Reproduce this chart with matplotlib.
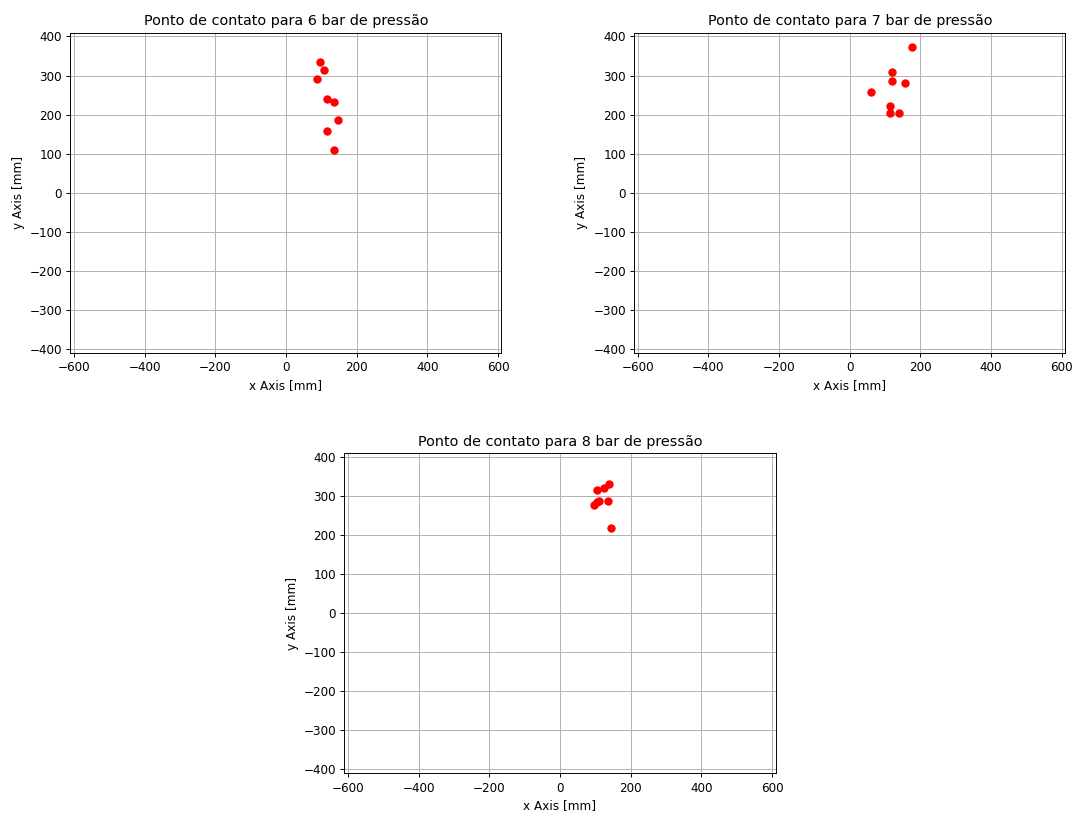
import matplotlib
matplotlib.use("Agg")
import matplotlib.pyplot as plt

# Contact points (mm) for each pressure level
x_6bar = [96, 107, 87, 116, 137, 148, 116, 137]
y_6bar = [334, 313, 290, 240, 233, 187, 159, 110]

x_7bar = [176, 120, 120, 156, 60, 114, 114, 140]
y_7bar = [372, 310, 286, 282, 257, 222, 204, 204]

x_8bar = [140, 125, 106, 110, 137, 96, 145, 104]
y_8bar = [331, 321, 315, 288, 286, 276, 217, 284]

titles = ["Ponto de contato para 6 bar de pressão",
          "Ponto de contato para 7 bar de pressão",
          "Ponto de contato para 8 bar de pressão"]

DPI = 86
fig = plt.figure(figsize=(1075 / DPI, 814 / DPI), dpi=DPI)
w, h = 0.401, 0.3937
positions = [(0.0655, 0.5663), (0.590, 0.5663), (0.3204, 0.05)]
datasets = [(x_6bar, y_6bar), (x_7bar, y_7bar), (x_8bar, y_8bar)]

for (left, bottom), (xs, ys), title in zip(positions, datasets, titles):
    ax = fig.add_axes([left, bottom, w, h])
    ax.plot(xs, ys, 'ro', markersize=6)
    ax.set_xlim(-610, 610)
    ax.set_ylim(-410, 410)
    ax.set_xticks(range(-600, 601, 200))
    ax.set_yticks(range(-400, 401, 100))
    ax.grid(True)
    ax.set_title(title)
    ax.set_xlabel("x Axis [mm]")
    ax.set_ylabel("y Axis [mm]")

fig.savefig("out.png", dpi=DPI)
